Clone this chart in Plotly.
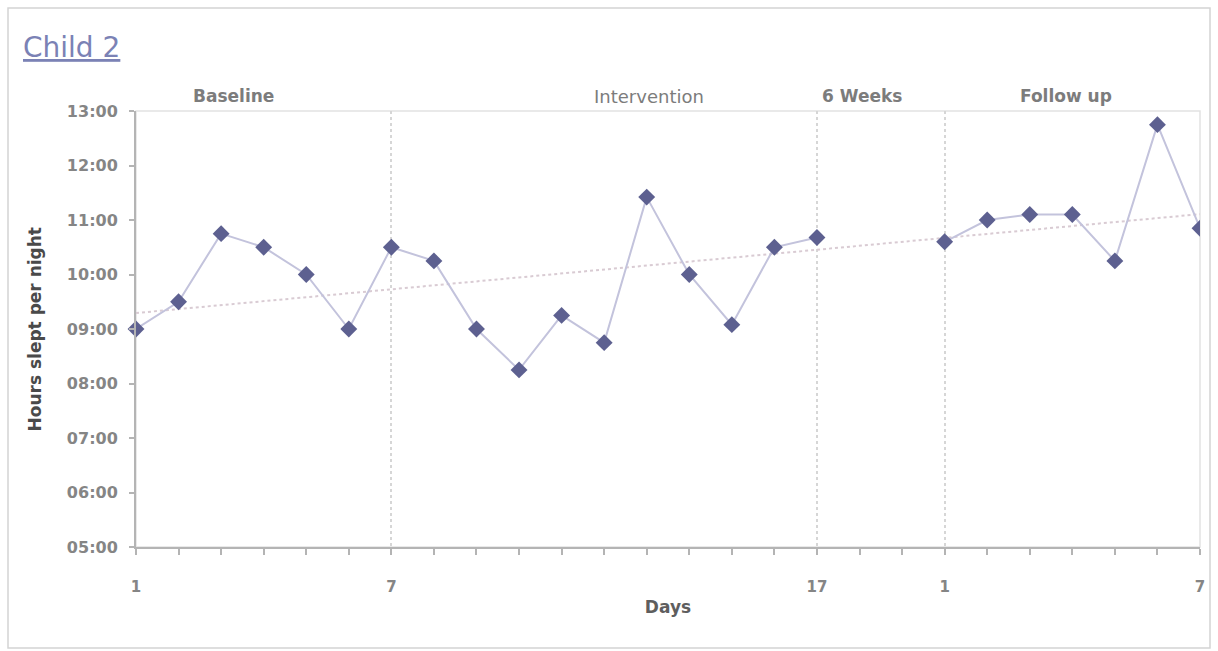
import numpy as np
import plotly.graph_objects as go

# ---------------- data ----------------
# category positions (0..25); indices 17 and 18 are the empty gap between 6 weeks and follow-up
day_index = list(range(26))
hours_slept = [9.0, 9.5, 10.75, 10.5, 10.0, 9.0, 10.5, 10.25, 9.0, 8.25, 9.25, 8.75,
               11.42, 10.0, 9.08, 10.5, 10.68, None, None,
               10.6, 11.0, 11.1, 11.1, 10.25, 12.75, 10.85]
tick_positions = [0, 6, 16, 19, 25]
tick_labels = ["1", "7", "17", "1", "7"]
y_ticks = [5, 6, 7, 8, 9, 10, 11, 12, 13]
y_tick_labels = ["05:00", "06:00", "07:00", "08:00", "09:00", "10:00", "11:00", "12:00", "13:00"]
phase_names = ["Baseline", "Intervention", "6 Weeks", "Follow up"]
phase_label_x = [2.3, 12.05, 17.05, 21.85]
phase_bold = [True, False, True, True]

# ---------------- figure ----------------
FONT = "'DejaVu Sans', Verdana, sans-serif"
LINE_COL = "#c3c3dc"
MARK_COL = "#5d6090"
GREY = "#858585"

xs = [x for x, v in zip(day_index, hours_slept) if v is not None]
vs = [v for v in hours_slept if v is not None]
slope, intercept = np.polyfit(xs, vs, 1)
trend_x = [day_index[0], day_index[-1]]
trend_y = [intercept + slope * x for x in trend_x]

fig = go.Figure()
fig.add_trace(go.Scatter(x=trend_x, y=trend_y, mode="lines",
                         line=dict(color="#d9cbd3", width=2, dash="dot"),
                         hoverinfo="skip", showlegend=False))
fig.add_trace(go.Scatter(x=day_index, y=hours_slept, mode="lines",
                         line=dict(color=LINE_COL, width=2),
                         connectgaps=False, showlegend=False))
fig.add_trace(go.Scatter(x=day_index[:-1], y=hours_slept[:-1], mode="markers",
                         marker=dict(symbol="diamond", size=13, color=MARK_COL),
                         cliponaxis=False, showlegend=False))
fig.add_trace(go.Scatter(x=day_index[-1:], y=hours_slept[-1:], mode="markers",
                         marker=dict(symbol="diamond", size=13, color=MARK_COL),
                         cliponaxis=True, showlegend=False))

# plot-area border (faint) and outer frame
fig.add_shape(type="rect", xref="paper", yref="paper", x0=0, x1=1, y0=0, y1=1,
              line=dict(color="#e2e2e2", width=1.5), layer="below")
fig.add_shape(type="rect", xref="paper", yref="paper",
              x0=-0.1203, x1=1.0094, y0=-0.2317, y1=1.236,
              line=dict(color="#d4d4d4", width=1.5), layer="below")

annotations = [
    dict(text="<u>Child 2</u>", xref="paper", yref="paper", x=-0.108, y=1.1445,
         xanchor="left", yanchor="middle", showarrow=False,
         font=dict(family=FONT, size=28, color="#7b82b5")),
    dict(text="Hours slept per night", xref="paper", yref="paper", x=-0.0945, y=0.5,
         xanchor="center", yanchor="middle", textangle=-90, showarrow=False,
         font=dict(family=FONT, size=17, color="#4a4a4a", weight="bold")),
]
for name, px, bold in zip(phase_names, phase_label_x, phase_bold):
    annotations.append(dict(text=name, x=px, xref="x", yref="paper", y=1.034,
                            xanchor="center", yanchor="middle", showarrow=False,
                            font=dict(family=FONT, size=17 if bold else 18, color="#7c7c7c",
                                      weight=600 if bold else "normal")))

fig.update_layout(
    width=1218, height=651,
    margin=dict(l=136, r=18, t=111, b=104),
    paper_bgcolor="white", plot_bgcolor="white",
    font=dict(family=FONT),
    annotations=annotations,
    showlegend=False,
)
fig.update_xaxes(
    range=[0, 25], tickmode="array", tickvals=tick_positions, ticktext=tick_labels,
    showgrid=True, gridcolor="#d6d6d6", griddash="dot", gridwidth=1.5,
    zeroline=False, showline=True, linecolor="#b4b4b4", linewidth=2,
    ticks="outside", ticklen=6, tickcolor="#b4b4b4", tickwidth=1.5,
    ticklabelstandoff=19,
    tickfont=dict(family=FONT, size=15, color=GREY, weight="bold"),
    minor=dict(tickmode="linear", tick0=0, dtick=1, ticks="outside", ticklen=6,
               tickcolor="#b4b4b4", tickwidth=1.5, showgrid=False),
    title=dict(text="Days", standoff=6,
               font=dict(family=FONT, size=17, color="#5e5e5e", weight="bold")),
)
fig.update_yaxes(
    range=[5, 13], tickmode="array", tickvals=y_ticks, ticktext=y_tick_labels,
    showgrid=False, zeroline=False, showline=True, linecolor="#b4b4b4", linewidth=2,
    ticks="outside", ticklen=5, tickcolor="#b4b4b4", tickwidth=1.5,
    ticklabelstandoff=8,
    tickfont=dict(family=FONT, size=16, color=GREY, weight="bold"),
)

fig.write_html("out.html", config={"displayModeBar": False},
               post_script="document.body.style.margin='0';document.body.style.overflow='hidden';")
